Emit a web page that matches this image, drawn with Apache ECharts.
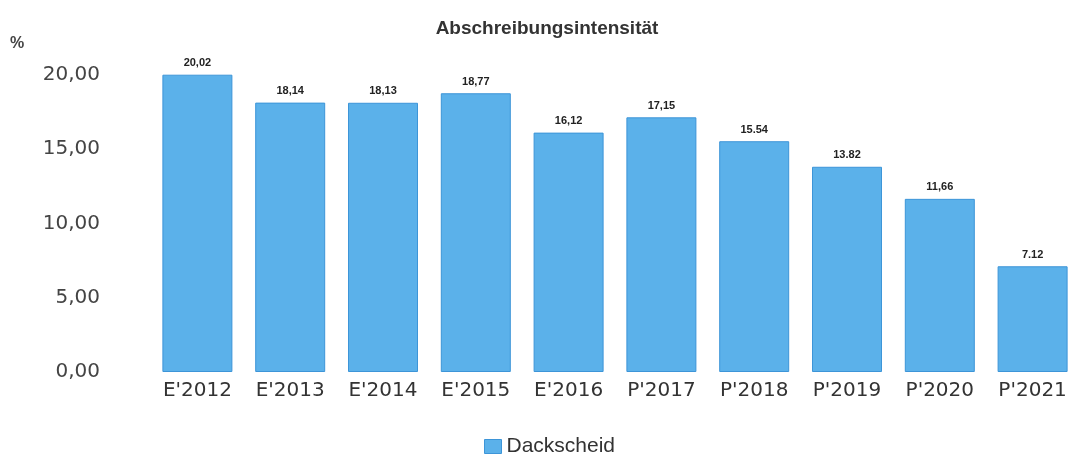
<!DOCTYPE html>
<html>
<head>
<meta charset="utf-8">
<script src="https://cdn.jsdelivr.net/npm/echarts@6/dist/echarts.min.js"></script>
<style>
  html, body { margin: 0; padding: 0; background: #fff; }
  #myChart { width: 1079px; height: 461px; }
</style>
</head>
<body>
<div id="myChart"></div>
<script>
// Daten
var categories = ["E'2012", "E'2013", "E'2014", "E'2015", "E'2016", "P'2017", "P'2018", "P'2019", "P'2020", "P'2021"];
var values = [20.02, 18.14, 18.13, 18.77, 16.12, 17.15, 15.54, 13.82, 11.66, 7.12];
var valueLabels = ["20,02", "18,14", "18,13", "18,77", "16,12", "17,15", "15.54", "13.82", "11,66", "7.12"];
var seriesName = "Dackscheid";

var myChart = echarts.init(document.getElementById("myChart"));
myChart.setOption({
  animation: false,
  title: {
    text: "Abschreibungsintensität",
    left: 542,
    textAlign: "center",
    top: 14,
    textStyle: {
      fontFamily: "Liberation Sans",
      fontSize: 19,
      fontWeight: "bold",
      color: "#333"
    }
  },
  graphic: [{
    type: "text",
    left: 10,
    top: 36,
    style: {
      text: "%",
      font: "bold 16px 'Liberation Sans'",
      fill: "#444"
    }
  }],
  legend: {
    data: [seriesName],
    icon: "rect",
    left: 479,
    top: 431,
    itemWidth: 17,
    itemHeight: 14,
    itemGap: 6,
    itemStyle: {
      borderColor: "#3d95d8",
      borderWidth: 1
    },
    textStyle: {
      fontFamily: "Liberation Sans",
      fontSize: 21,
      color: "#333"
    }
  },
  grid: {
    left: 151,
    width: 938,
    top: 75,
    height: 297,
    containLabel: false
  },
  xAxis: {
    type: "category",
    data: categories,
    axisLine: { show: false },
    axisTick: { show: false },
    axisLabel: {
      margin: 9,
      fontFamily: "DejaVu Sans",
      fontSize: 20,
      color: "#333"
    }
  },
  yAxis: {
    type: "value",
    min: 0,
    max: 20,
    interval: 5,
    axisLine: { show: false },
    axisTick: { show: false },
    splitLine: { show: false },
    axisLabel: {
      margin: 51,
      fontFamily: "DejaVu Sans",
      fontSize: 20,
      color: "#444",
      formatter: function (v) {
        return v.toFixed(2).replace(".", ",");
      }
    }
  },
  series: [{
    name: seriesName,
    type: "bar",
    data: values,
    barWidth: 70,
    clip: false,
    itemStyle: {
      color: "#5bb1ea",
      borderColor: "#3d95d8",
      borderWidth: 1
    },
    label: {
      show: true,
      position: "top",
      distance: 6,
      fontFamily: "Liberation Sans",
      fontSize: 11,
      fontWeight: "bold",
      color: "#222",
      formatter: function (p) {
        return valueLabels[p.dataIndex];
      }
    }
  }]
});
</script>
</body>
</html>
